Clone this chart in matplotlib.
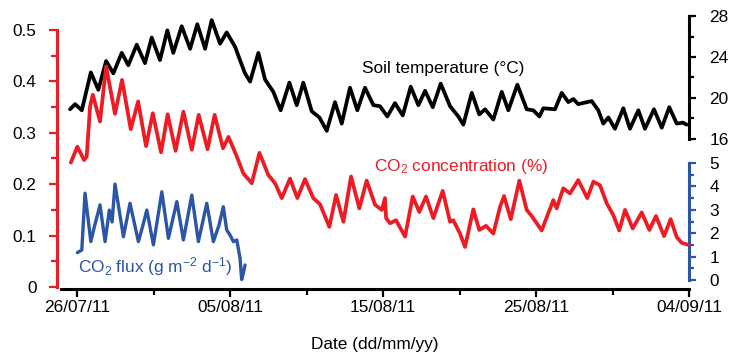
import numpy as np
import matplotlib.pyplot as plt
import matplotlib.dates as mdates

plt.rcParams['font.family'] = ['Liberation Sans', 'DejaVu Sans']
plt.rcParams['mathtext.default'] = 'regular'
FS = 12.4

# days since 26/07/2011 00:00
temp_day = [-0.46, -0.13, 0.31, 0.63, 0.90, 1.39, 1.90, 2.37, 2.92, 3.35,
            3.90, 4.44, 4.88, 5.42, 5.90, 6.29, 6.84, 7.39, 7.86, 8.37,
            8.80, 9.35, 9.78, 10.33, 10.65, 10.98, 11.31, 11.85, 12.29, 12.83,
            13.31, 13.88, 14.36, 14.79, 15.34, 15.84, 16.32, 16.86, 17.30, 17.84,
            18.32, 18.82, 19.37, 19.80, 20.28, 20.78, 21.29, 21.81, 22.31, 22.75,
            23.25, 23.77, 24.38, 24.92, 25.25, 25.80, 26.29, 26.67, 27.21, 27.76,
            28.19, 28.78, 29.39, 29.82, 30.22, 30.48, 31.24, 31.68, 32.11, 32.44,
            32.76, 33.64, 34.07, 34.40, 34.73, 35.16, 35.71, 36.14, 36.69, 37.12,
            37.71, 38.22, 38.71, 39.20, 39.59, 39.85]
temp_val = [18.9, 19.4, 18.8, 20.8, 22.5, 20.8, 23.6, 22.4, 24.4, 23.2,
            25.2, 23.4, 25.9, 23.7, 26.6, 24.4, 27.0, 24.8, 27.2, 24.8,
            27.6, 25.3, 26.4, 25.0, 23.7, 22.4, 21.6, 24.4, 21.8, 20.6,
            18.8, 21.5, 19.3, 21.5, 18.7, 18.1, 16.8, 19.6, 17.5, 21.0,
            18.8, 21.0, 19.3, 19.2, 18.2, 19.5, 18.3, 21.1, 19.3, 20.7,
            19.1, 21.4, 19.2, 18.2, 17.4, 20.5, 18.4, 18.9, 17.9, 20.6,
            18.8, 21.3, 18.9, 18.8, 18.2, 19.0, 18.9, 20.5, 19.6, 19.9,
            19.4, 19.7, 18.8, 17.5, 18.1, 17.0, 19.0, 17.0, 18.8, 17.0,
            18.9, 17.1, 19.1, 17.5, 17.6, 17.4]

co2_day = [-0.41, 0.02, 0.46, 0.63, 0.85, 1.03, 1.50, 1.90, 2.48, 2.94,
           3.51, 3.99, 4.51, 4.95, 5.49, 5.92, 6.44, 6.95, 7.50, 7.95,
           8.53, 8.99, 9.54, 9.90, 10.44, 10.87, 11.42, 11.92, 12.50, 12.94,
           13.38, 13.92, 14.40, 14.90, 15.44, 15.88, 16.49, 16.93, 17.41, 17.91,
           18.45, 18.93, 19.48, 19.92, 20.13, 20.20, 20.46, 20.85, 21.44, 21.94,
           22.37, 22.81, 23.29, 23.90, 24.38, 24.59, 25.03, 25.36, 25.90, 26.29,
           26.73, 27.21, 27.65, 27.91, 28.35, 28.91, 29.39, 29.72, 30.37, 31.13,
           31.35, 31.78, 32.22, 32.76, 33.35, 33.75, 34.18, 34.62, 35.05, 35.44,
           35.82, 36.32, 36.91, 37.41, 37.84, 38.37, 38.80, 39.20, 39.52, 39.95]
co2_val = [0.242, 0.273, 0.247, 0.254, 0.351, 0.374, 0.322, 0.429, 0.337, 0.403,
           0.307, 0.361, 0.274, 0.338, 0.262, 0.336, 0.265, 0.341, 0.267, 0.335,
           0.268, 0.335, 0.270, 0.292, 0.254, 0.221, 0.202, 0.261, 0.218, 0.202,
           0.173, 0.211, 0.173, 0.210, 0.173, 0.161, 0.117, 0.179, 0.127, 0.215,
           0.153, 0.207, 0.160, 0.150, 0.173, 0.134, 0.124, 0.130, 0.098, 0.176,
           0.146, 0.176, 0.134, 0.187, 0.127, 0.130, 0.104, 0.078, 0.151, 0.111,
           0.119, 0.104, 0.156, 0.177, 0.132, 0.207, 0.150, 0.138, 0.110, 0.169,
           0.153, 0.192, 0.182, 0.208, 0.173, 0.205, 0.198, 0.163, 0.140, 0.110,
           0.150, 0.114, 0.145, 0.111, 0.138, 0.099, 0.132, 0.097, 0.086, 0.082]

flux_day = [0.02, 0.31, 0.52, 0.90, 1.11, 1.50, 1.83, 2.11, 2.29, 2.48,
            3.03, 3.46, 4.01, 4.31, 4.56, 4.99, 5.54, 5.97, 6.52, 6.95,
            7.50, 7.93, 8.48, 8.91, 9.28, 9.56, 9.78, 10.00, 10.22, 10.44,
            10.65, 10.76, 10.87, 10.98]
flux_val = [1.17, 1.28, 3.71, 1.64, 2.22, 3.21, 1.64, 2.99, 2.48, 4.10,
            1.85, 3.28, 1.64, 2.35, 2.99, 1.50, 3.77, 1.78, 3.35, 1.71,
            3.63, 1.64, 3.28, 1.64, 2.35, 3.13, 2.14, 1.92, 1.64, 1.71,
            0.94, 0.02, 0.29, 0.64]

tick_dates = ['2011-07-26', '2011-08-05', '2011-08-15', '2011-08-25', '2011-09-04']
minor_dates = ['2011-07-31', '2011-08-10', '2011-08-20', '2011-08-30']

RED = '#ed1c24'
BLUE = '#2b55a6'
t0 = np.datetime64('2011-07-26T00:00')


def to_time(d):
    return t0 + np.round(np.asarray(d) * 1440).astype('timedelta64[m]')


W, H = 730, 355
fig = plt.figure(figsize=(W / 100, H / 100), dpi=100)
left, width = 61 / W, 628 / W
ax = fig.add_axes([left, 1 - 287 / H, width, 257 / H])
ax_t = fig.add_axes([left, 1 - 139 / H, width, 123 / H], sharex=ax)
ax_f = fig.add_axes([left, 1 - 280 / H, width, 117 / H], sharex=ax)
ax.set_zorder(3)
ax_t.set_zorder(2)
ax_f.set_zorder(1)
for a in (ax, ax_t, ax_f):
    a.patch.set_visible(False)

ax_t.plot(to_time(temp_day), temp_val, color='k', lw=2.7, clip_on=False,
          solid_joinstyle='round', solid_capstyle='round')
ax.plot(to_time(co2_day), co2_val, color=RED, lw=2.7, clip_on=False,
        solid_joinstyle='round', solid_capstyle='round')
ax_f.plot(to_time(flux_day), flux_val, color=BLUE, lw=2.4, clip_on=False,
          solid_joinstyle='round', solid_capstyle='round')

# x axis
ax.set_xlim(to_time(-1.05), to_time(40))
ax.set_xticks([np.datetime64(d) for d in tick_dates])
ax.set_xticks([np.datetime64(d) for d in minor_dates], minor=True)
ax.xaxis.set_major_formatter(mdates.DateFormatter('%d/%m/%y'))
ax.tick_params(axis='x', which='major', length=6, width=1.6, pad=2, labelsize=FS)
ax.tick_params(axis='x', which='minor', length=4, width=1.6)
ax.set_xlabel('Date (dd/mm/yy)', fontsize=FS, labelpad=16)

# left CO2 concentration axis
ax.set_ylim(0, 0.5)
ax.set_yticks(np.arange(0, 0.51, 0.1))
ax.set_yticks(np.arange(0.05, 0.5, 0.1), minor=True)
ax.set_yticklabels(['0', '0.1', '0.2', '0.3', '0.4', '0.5'])
ax.tick_params(axis='y', which='major', length=6, width=1.6, color=RED,
               pad=8.5, labelsize=FS)
ax.tick_params(axis='y', which='minor', length=4, width=1.6, color=RED)
ax.spines['left'].set_color(RED)
ax.spines['left'].set_linewidth(2.2)
ax.spines['left'].set_position(('outward', 3))
ax.spines['bottom'].set_linewidth(2.2)
ax.spines['bottom'].set_position(('outward', 1.5))
ax.spines['top'].set_visible(False)
ax.spines['right'].set_visible(False)

# right axes
for a, col, lo, hi, maj, mnr in ((ax_t, 'k', 16, 28, np.arange(16, 29, 4), np.arange(18, 28, 4)),
                                 (ax_f, BLUE, 0, 5, np.arange(0, 6), np.arange(0.5, 5, 1))):
    a.set_ylim(lo, hi)
    a.set_yticks(maj)
    a.set_yticks(mnr, minor=True)
    a.yaxis.tick_right()
    a.tick_params(axis='x', which='both', bottom=False, labelbottom=False)
    a.tick_params(axis='y', which='major', length=5, width=1.6, color=col,
                  pad=9.5, labelsize=FS)
    a.tick_params(axis='y', which='minor', length=3.5, width=1.6, color=col)
    for s in ('left', 'top', 'bottom'):
        a.spines[s].set_visible(False)
    a.spines['right'].set_color(col)
    a.spines['right'].set_linewidth(2.2)

# series labels
ax_t.text(to_time(23.9), 22.9, 'Soil temperature (°C)', fontsize=FS,
          ha='center', va='center')
ax.text(to_time(25.1), 0.235, 'CO$_2$ concentration (%)', fontsize=FS,
        color=RED, ha='center', va='center')
ax.text(to_time(5.07), 0.039, 'CO$_2$ flux (g m$^{-2}$ d$^{-1}$)', fontsize=FS,
        color=BLUE, ha='center', va='center')

fig.savefig('out.png', dpi=100)
